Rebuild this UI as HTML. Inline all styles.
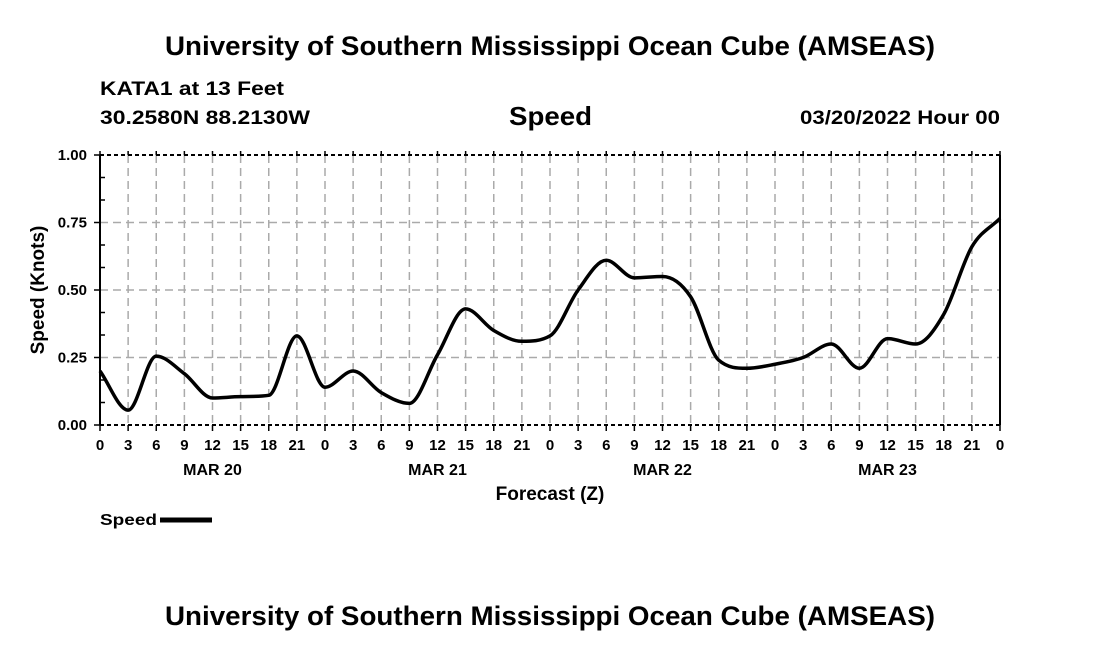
<!DOCTYPE html>
<html><head><meta charset="utf-8"><style>
body{margin:0;background:#fff;width:1100px;height:650px;overflow:hidden;font-family:"Liberation Sans",Arial,sans-serif}
</style></head><body>
<svg id="chart" width="1100" height="650" xmlns="http://www.w3.org/2000/svg" font-family="Liberation Sans, Arial, sans-serif" font-weight="bold" xml:space="preserve">
<text x="165" y="55" font-size="27" textLength="770" lengthAdjust="spacingAndGlyphs">University of Southern Mississippi Ocean Cube (AMSEAS)</text>
<text x="100" y="95" font-size="19" textLength="184" lengthAdjust="spacingAndGlyphs">KATA1 at 13 Feet</text>
<text x="100" y="124" font-size="19" textLength="210" lengthAdjust="spacingAndGlyphs">30.2580N  88.2130W</text>
<text x="509" y="125" font-size="26" textLength="83" lengthAdjust="spacingAndGlyphs">Speed</text>
<text x="800" y="124" font-size="19" textLength="200" lengthAdjust="spacingAndGlyphs">03/20/2022 Hour 00</text>
<g id="grid"></g><g id="axes"></g>
<path id="line" fill="none" stroke="#000" stroke-width="3.5" stroke-linejoin="round"/>
<text transform="translate(44,290) rotate(-90)" font-size="19" text-anchor="middle">Speed (Knots)</text>
<text x="550" y="500" font-size="19" text-anchor="middle">Forecast (Z)</text>
<text x="100" y="525" font-size="16" textLength="57" lengthAdjust="spacingAndGlyphs">Speed</text>
<line x1="160" y1="520" x2="212" y2="520" stroke="#000" stroke-width="5"/>
<text x="165" y="625" font-size="27" textLength="770" lengthAdjust="spacingAndGlyphs">University of Southern Mississippi Ocean Cube (AMSEAS)</text>
</svg>
<script>
const hours=[0,3,6,9,12,15,18,21,24,27,30,33,36,39,42,45,48,51,54,57,60,63,66,69,72,75,78,81,84,87,90,93,96];
const speeds=[0.20,0.055,0.255,0.19,0.10,0.105,0.11,0.33,0.14,0.20,0.12,0.08,0.26,0.43,0.35,0.31,0.33,0.50,0.61,0.545,0.55,0.475,0.24,0.21,0.225,0.25,0.30,0.21,0.32,0.30,0.41,0.66,0.765];
const yTicks=[0,0.25,0.5,0.75,1.0];
const yTickLabels=["0.00","0.25","0.50","0.75","1.00"];
const dayLabels=["MAR 20","MAR 21","MAR 22","MAR 23"];
const dayCenters=[12,36,60,84];
const X0=100,X1=1000,Y0=425,Y1=155;
const xs=h=>X0+(h/96)*(X1-X0);
const ys=v=>Y0-v*(Y0-Y1);
const NS="http://www.w3.org/2000/svg";
const grid=document.getElementById('grid'),axes=document.getElementById('axes');
function mk(p,tag,attrs){const e=document.createElementNS(NS,tag);for(const k in attrs)e.setAttribute(k,attrs[k]);p.appendChild(e);return e;}
for(let h=3;h<96;h+=3){
 const g=mk(grid,'line',{x1:xs(h),x2:xs(h),y1:Y1,y2:Y0,stroke:'#aaa','stroke-width':1.5,'stroke-dasharray':'8,5'});
 
 
}
yTicks.forEach((v,i)=>{
 if(v>0&&v<1){const g=mk(grid,'line',{x1:X0,x2:X1,y1:ys(v),y2:ys(v),stroke:'#aaa','stroke-width':1.5,'stroke-dasharray':'8,5'});
 
 }
 const t=mk(axes,'text',{x:X0-13,y:ys(v)+5,'font-size':15,'text-anchor':'end'});
 t.textContent=yTickLabels[i];
 
 
 mk(axes,'line',{x1:X0-6,x2:X0,y1:ys(v),y2:ys(v),stroke:'#000','stroke-width':1.5});
});
for(let k=1;k<12;k++){if(k%3)mk(axes,'line',{x1:X0,x2:X0+5,y1:Y0-k*(Y0-Y1)/12,y2:Y0-k*(Y0-Y1)/12,stroke:'#000','stroke-width':1.5});}
[Y1,Y0].forEach(y=>mk(axes,'line',{x1:X0,x2:X1,y1:y,y2:y,stroke:'#000','stroke-width':2,'stroke-dasharray':'4,3'}));
mk(axes,'line',{x1:X0,x2:X0,y1:Y1,y2:Y0,stroke:'#000','stroke-width':2});
mk(axes,'line',{x1:X1,x2:X1,y1:Y1,y2:Y0,stroke:'#000','stroke-width':2});
for(let h=0;h<=96;h+=3){
 mk(axes,'line',{x1:xs(h),x2:xs(h),y1:Y0,y2:Y0+6,stroke:'#000','stroke-width':1.5});
 mk(axes,'line',{x1:xs(h),x2:xs(h),y1:Y1,y2:Y1-4,stroke:'#000','stroke-width':1.5});
 const t=mk(axes,'text',{x:xs(h),y:Y0+25,'font-size':15,'text-anchor':'middle'});
 t.textContent=String(h%24);
 
 
}
dayLabels.forEach((d,i)=>{const t=mk(axes,'text',{x:xs(dayCenters[i]),y:Y0+50,'font-size':16,'text-anchor':'middle'});
 t.textContent=d;
 
 });
// monotone cubic
const P=hours.map((h,i)=>[xs(h),ys(speeds[i])]);
const n=P.length,dl=[],m=[];
for(let i=0;i<n-1;i++)dl.push((P[i+1][1]-P[i][1])/(P[i+1][0]-P[i][0]));
m[0]=dl[0];m[n-1]=dl[n-2];
for(let i=1;i<n-1;i++){m[i]=(dl[i-1]*dl[i]<=0)?0:(dl[i-1]+dl[i])/2;}
for(let i=0;i<n-1;i++){if(dl[i]===0){m[i]=0;m[i+1]=0;continue;}const a=m[i]/dl[i],b=m[i+1]/dl[i],s=a*a+b*b;if(s>9){const t=3/Math.sqrt(s);m[i]=t*a*dl[i];m[i+1]=t*b*dl[i];}}
let d='M'+P[0][0]+','+P[0][1];
for(let i=0;i<n-1;i++){const h=(P[i+1][0]-P[i][0])/3;
 d+=` C${P[i][0]+h},${P[i][1]+m[i]*h} ${P[i+1][0]-h},${P[i+1][1]-m[i+1]*h} ${P[i+1][0]},${P[i+1][1]}`;}
document.getElementById('line').setAttribute('d',d);
</script>
</body></html>
